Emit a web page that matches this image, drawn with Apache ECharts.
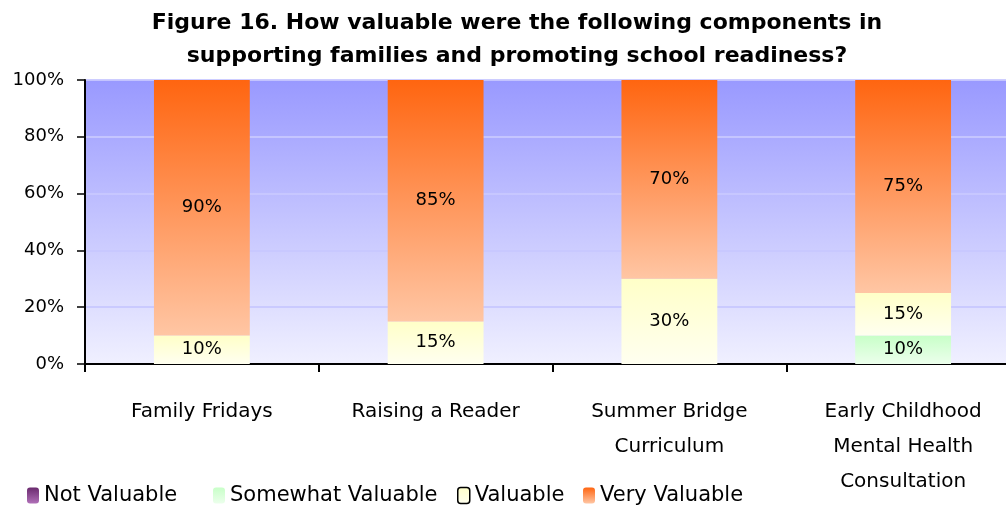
<!DOCTYPE html>
<html lang='en'>
  <head>
    <meta charset='utf-8'>
    <title>Figure 16</title>
    <style>
      body { margin: 0; background: #fff; overflow: hidden; }
      /* plot area runs past the right edge of the window in the original */
      #main { width: 1020px; height: 505px; }
    </style>
  </head>
  <body>
    <div id="main"></div>
    <script src="https://cdn.jsdelivr.net/npm/echarts@6/dist/echarts.min.js"></script>
    <script>
      // data (percent of respondents)
      var categories = ['Family Fridays', 'Raising a Reader', 'Summer Bridge\nCurriculum', 'Early Childhood\nMental Health\nConsultation'];
      var notValuable = [0, 0, 0, 0];
      var somewhatValuable = [0, 0, 0, 10];
      var valuable = [10, 15, 30, 15];
      var veryValuable = [90, 85, 70, 75];
      var yTicks = [0, 20, 40, 60, 80, 100];
      var legendNames = ['Not Valuable', 'Somewhat Valuable', 'Valuable', 'Very Valuable'];
      var legendLeft = [22, 208, 452, 578];

      var font = 'DejaVu Sans';

      function grad(top, bottom) {
        return { type: 'linear', x: 0, y: 0, x2: 0, y2: 1,
          colorStops: [{ offset: 0, color: top }, { offset: 1, color: bottom }] };
      }

      var lbl = {
        show: true,
        color: '#000',
        fontFamily: font,
        fontSize: 18,
        formatter: function (p) { return p.value ? p.value + '%' : ''; }
      };

      // one legend per item so each sits where it does in the original
      var legends = legendNames.map(function (name, i) {
        var item = name === 'Valuable'
          ? { name: name, itemStyle: { borderColor: '#000', borderWidth: 1.5 } }
          : name;
        return {
          left: legendLeft[i],
          bottom: -6,
          itemWidth: 12,
          itemHeight: 16,
          textStyle: { fontFamily: font, fontSize: 21, color: '#000' },
          data: [item]
        };
      });

      var myChart = echarts.init(document.getElementById('main'));
      var option = {
        animation: false,
        title: {
          text: 'Figure 16. How valuable were the following components in\nsupporting families and promoting school readiness?',
          left: 512,
          textAlign: 'center',
          top: 2,
          textStyle: { fontFamily: font, fontSize: 22, fontWeight: 'bold', color: '#000', lineHeight: 33 }
        },
        legend: legends,
        grid: {
          left: 85, top: 80, right: 0, height: 284,
          show: true,
          borderWidth: 0,
          backgroundColor: grad('#9999ff', '#f0f0ff')
        },
        xAxis: {
          type: 'category',
          data: categories,
          axisLine: { lineStyle: { color: '#000', width: 2 } },
          axisTick: { show: true, length: 8, lineStyle: { color: '#000', width: 2 } },
          axisLabel: { fontFamily: font, fontSize: 20, color: '#000', lineHeight: 35, margin: 30, interval: 0 }
        },
        yAxis: {
          type: 'value',
          min: 0, max: 100, interval: 20,
          axisLine: { show: true, lineStyle: { color: '#000', width: 2 } },
          axisTick: { show: true, length: 8, lineStyle: { color: '#000', width: 1.5 } },
          axisLabel: {
            fontFamily: font, fontSize: 18, color: '#000', margin: 21,
            formatter: function (v) { return yTicks.indexOf(v) >= 0 ? v + '%' : ''; }
          },
          splitLine: { show: true, lineStyle: { color: 'rgba(200,200,255,0.9)', width: 2 } }
        },
        series: [
          { name: 'Not Valuable', type: 'bar', stack: 'all', barWidth: '41%', data: notValuable,
            itemStyle: { color: grad('#6a2a6e', '#b070b8') }, label: lbl },
          { name: 'Somewhat Valuable', type: 'bar', stack: 'all', data: somewhatValuable,
            itemStyle: { color: grad('#c8ffc8', '#ecffec') }, label: lbl },
          { name: 'Valuable', type: 'bar', stack: 'all', data: valuable,
            itemStyle: { color: grad('#ffffc8', '#fffff0') }, label: lbl },
          { name: 'Very Valuable', type: 'bar', stack: 'all', data: veryValuable,
            itemStyle: { color: grad('#ff6510', '#ffc6a4') }, label: lbl }
        ]
      };
      myChart.setOption(option);
    </script>
  </body>
</html>
